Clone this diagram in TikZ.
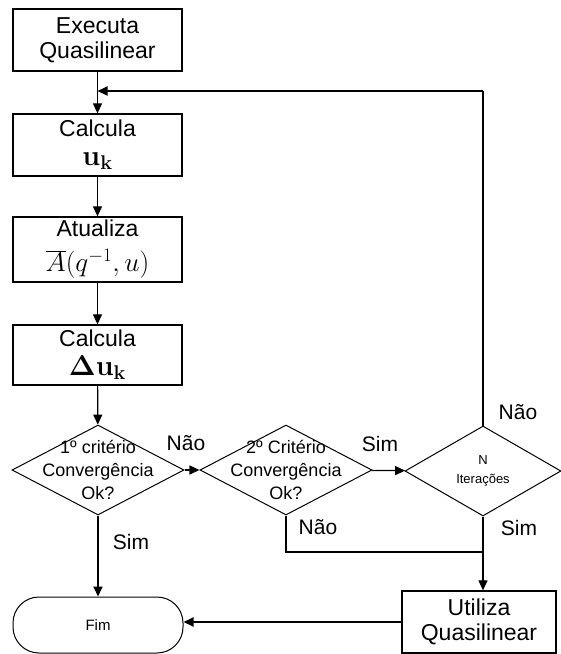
\documentclass[tikz,border=0pt]{standalone}
\usepackage[no-math]{fontspec}
\setmainfont{Liberation Sans}
\usetikzlibrary{shapes.geometric,arrows.meta}
\tikzset{
	caixa/.style={draw, line width=1.3pt, minimum width=169pt, minimum height=62pt, align=center, inner sep=0pt, font=\fontsize{23}{25}\selectfont},
	losango/.style={draw, diamond, line width=1pt, inner sep=0pt, minimum width=172pt, minimum height=90pt},
	texto/.style={align=center, font=\fontsize{18}{23}\selectfont},
	rotulo/.style={font=\fontsize{21}{23}\selectfont},
	seta/.style={line width=1.2pt, -{Triangle[length=10pt,width=9pt]}},
	linha/.style={line width=1.2pt}
}
\begin{document}
\begin{tikzpicture}[x=1pt, y=-1pt]
			\useasboundingbox (0,0) rectangle (561,654);
			
			\node[caixa] (executa) at (97.5,40) {Executa\\Quasilinear};
			\node[caixa] (calcula) at (97.5,145) {Calcula\\[4pt]\scalebox{1.15}{$\mathbf{u_k}$}};
			\node[caixa, minimum height=65pt] (atualiza) at (97.5,249.5) {Atualiza\\[10pt]\scalebox{1.1}{$\overline{A}(q^{-1},u)$}};
			\node[caixa, minimum height=60pt] (delta) at (97.5,355) {Calcula\\[4pt]\scalebox{1.15}{$\mathbf{\Delta u_k}$}};
			
			\node[losango] (crit1) at (98,470) {};
			\node[texto] (tcrit1) at (crit1) {1º critério\\Convergência\\Ok?};
			\node[losango] (crit2) at (286,470) {};
			\node[texto] (tcrit2) at (crit2) {2º Critério\\Convergência\\Ok?};
			\node[losango, minimum width=156pt] (iter) at (483,471) {};
			\node[align=center, font=\fontsize{13}{19}\selectfont] (titer) at (iter) {N\\Iterações};
			
			\node[draw, rounded corners=26pt, line width=1pt, minimum width=170pt, minimum height=56pt, font=\fontsize{15}{16}\selectfont] (fim) at (98,625) {Fim};
			\node[caixa, minimum width=154pt] (utiliza) at (479,622) {Utiliza\\Quasilinear};
			
			\coordinate (juncao) at (97.5,91);
			\coordinate (volta) at (iter.north |- juncao);
			\coordinate (canto) at (286,552);
			
			\draw[seta] (executa) -- (calcula);
			\draw[linha] (iter.north) -- (volta);
			\draw[seta, line width=2pt] (volta) -- (juncao);
			\draw[seta] (calcula) -- (atualiza);
			\draw[seta] (atualiza) -- (delta);
			\draw[seta] (delta) -- (crit1);
			\draw[seta] (crit1) -- (crit2);
			\draw[seta] (crit2) -- (iter);
			\draw[seta, line width=1.8pt] (crit1) -- (fim);
			\draw[linha] (crit2.south) -- (canto) -- (canto -| iter.south);
			\draw[seta] (iter.south) -- (iter.south |- utiliza.north);
			\draw[seta, line width=2pt] (utiliza.west) -- (utiliza.west -| fim.east);
			
			\node[rotulo] (nao1) at (186,443) {Não};
			\node[rotulo] (sim1) at (380,444) {Sim};
			\node[rotulo] (nao2) at (518,412) {Não};
			\node[rotulo] (nao3) at (318,527) {Não};
			\node[rotulo] (sim2) at (519,528) {Sim};
			\node[rotulo] (sim3) at (131,542) {Sim};
			
		\end{tikzpicture}
\end{document}
